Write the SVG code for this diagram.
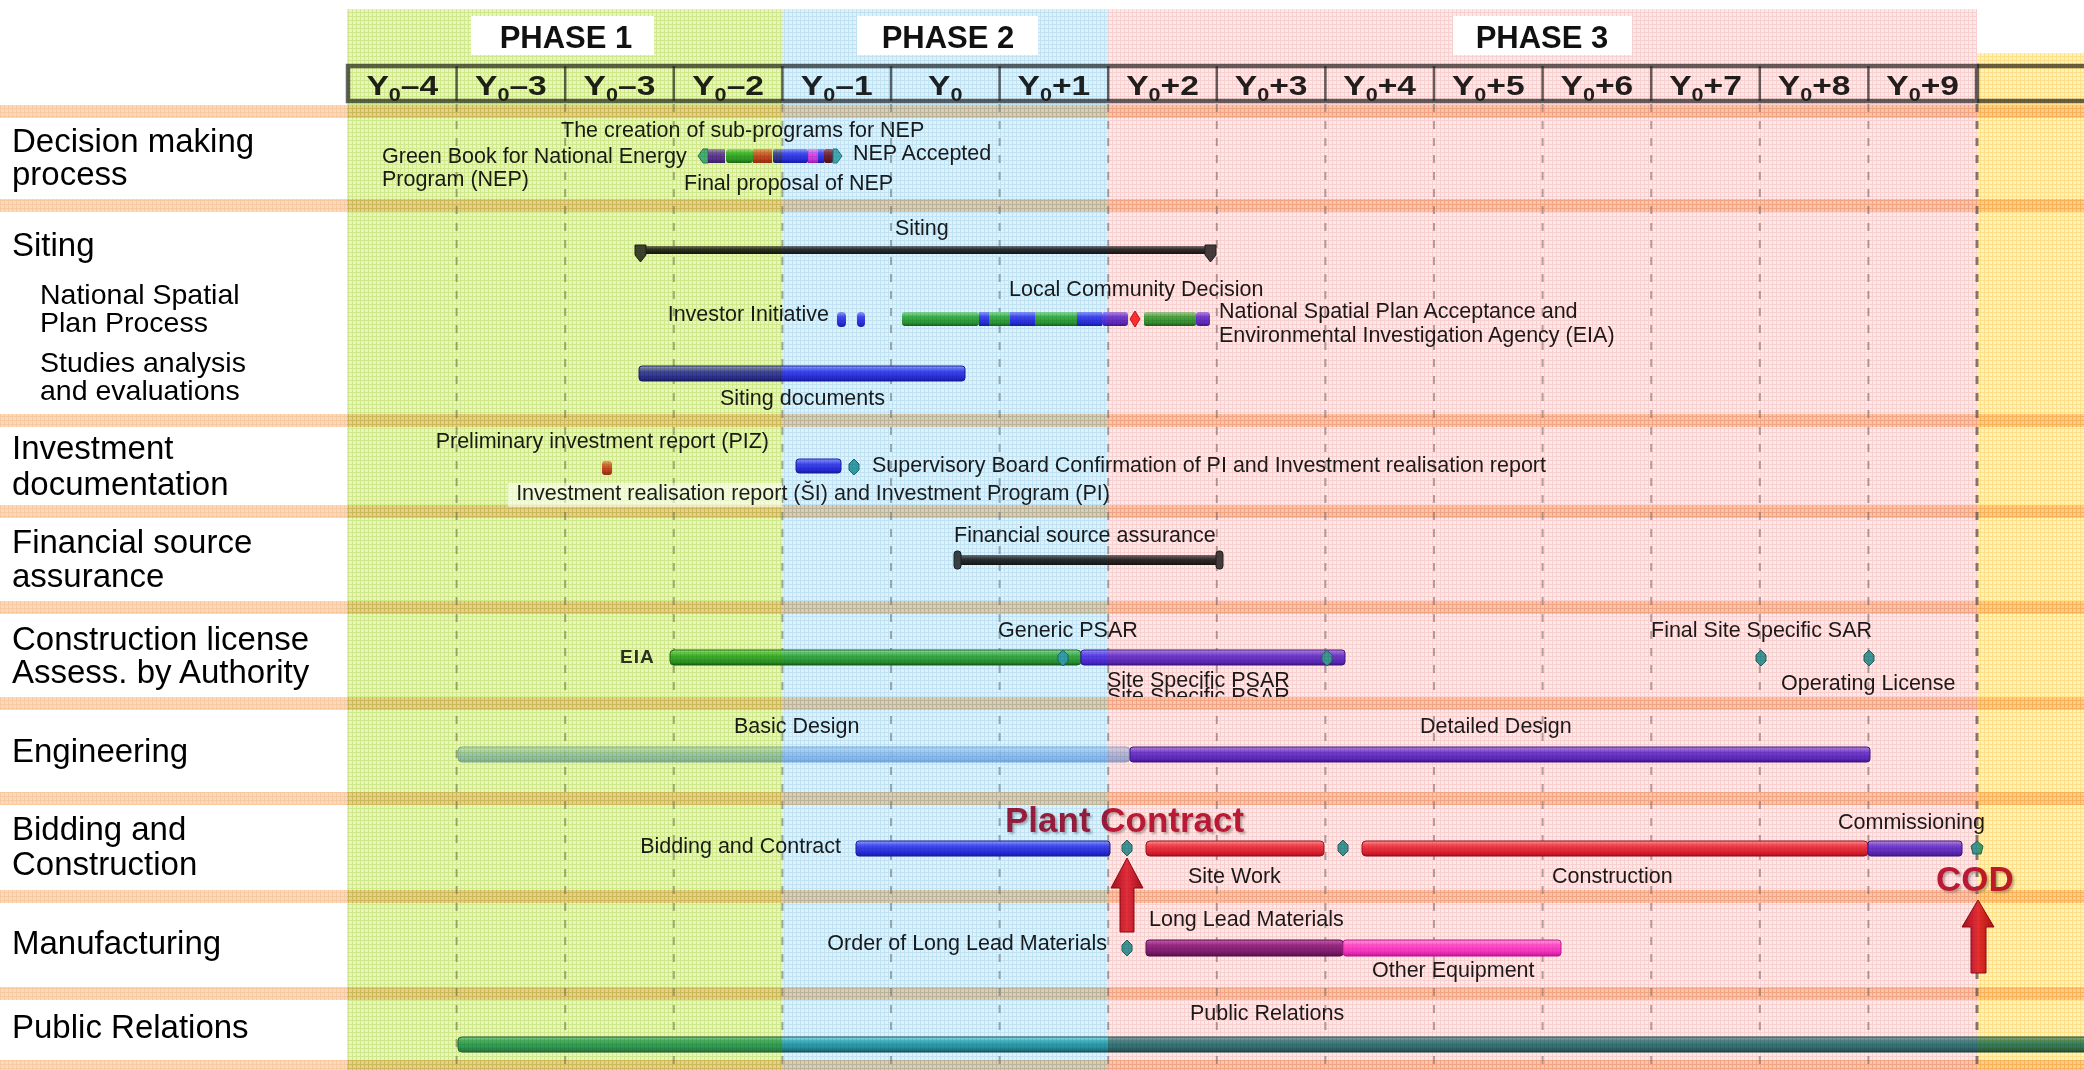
<svg xmlns="http://www.w3.org/2000/svg" width="2084" height="1070" viewBox="0 0 2084 1070">
<defs>
  <!-- fine grid textures for the phase tints -->
  <pattern id="pG" width="4" height="4" patternUnits="userSpaceOnUse"><rect width="4" height="4" fill="#e9f5bc"/><path d="M0 .5H4M.5 0V4" stroke="#d0e88c" stroke-width="1"/></pattern>
  <pattern id="pB" width="4" height="4" patternUnits="userSpaceOnUse"><rect width="4" height="4" fill="#def2fb"/><path d="M0 .5H4M.5 0V4" stroke="#c0e2f2" stroke-width="1"/></pattern>
  <pattern id="pP" width="4" height="4" patternUnits="userSpaceOnUse"><rect width="4" height="4" fill="#fee8e8"/><path d="M0 .5H4M.5 0V4" stroke="#f8d0d0" stroke-width="1"/></pattern>
  <pattern id="pY" width="4" height="4" patternUnits="userSpaceOnUse"><rect width="4" height="4" fill="#fff2bc"/><path d="M0 .5H4M.5 0V4" stroke="#ffe088" stroke-width="1"/></pattern>
  <pattern id="pBand" width="4" height="4" patternUnits="userSpaceOnUse"><rect width="4" height="4" fill="#fcd9bb"/><path d="M0 .5H4M.5 0V4" stroke="#f8caa2" stroke-width="1"/></pattern>

  <linearGradient id="gBlue" x1="0" y1="0" x2="0" y2="1"><stop offset="0" stop-color="#a4a4ff"/><stop offset=".35" stop-color="#4a4af2"/><stop offset=".8" stop-color="#2c2cd6"/><stop offset="1" stop-color="#1c1ca6"/></linearGradient>
  <linearGradient id="gGreen" x1="0" y1="0" x2="0" y2="1"><stop offset="0" stop-color="#a2e89e"/><stop offset=".35" stop-color="#48ba48"/><stop offset=".8" stop-color="#2f9a2f"/><stop offset="1" stop-color="#1e661e"/></linearGradient>
  <linearGradient id="gRed" x1="0" y1="0" x2="0" y2="1"><stop offset="0" stop-color="#ff9c9c"/><stop offset=".35" stop-color="#ee4252"/><stop offset=".8" stop-color="#d82232"/><stop offset="1" stop-color="#a01020"/></linearGradient>
  <linearGradient id="gOrange" x1="0" y1="0" x2="0" y2="1"><stop offset="0" stop-color="#ffa88a"/><stop offset=".4" stop-color="#e85a3a"/><stop offset="1" stop-color="#b02a18"/></linearGradient>
  <linearGradient id="gDRed" x1="0" y1="0" x2="0" y2="1"><stop offset="0" stop-color="#c06070"/><stop offset=".4" stop-color="#902838"/><stop offset="1" stop-color="#601020"/></linearGradient>
  <linearGradient id="gPurple" x1="0" y1="0" x2="0" y2="1"><stop offset="0" stop-color="#b496ff"/><stop offset=".35" stop-color="#7044ec"/><stop offset=".8" stop-color="#5a2ad2"/><stop offset="1" stop-color="#3e1aa0"/></linearGradient>
  <linearGradient id="gDark" x1="0" y1="0" x2="0" y2="1"><stop offset="0" stop-color="#7a7a7a"/><stop offset=".4" stop-color="#343434"/><stop offset="1" stop-color="#161616"/></linearGradient>
  <linearGradient id="gMag" x1="0" y1="0" x2="0" y2="1"><stop offset="0" stop-color="#ffa6f2"/><stop offset=".35" stop-color="#ff54e8"/><stop offset=".8" stop-color="#f032d8"/><stop offset="1" stop-color="#b01aa0"/></linearGradient>
  <linearGradient id="gDMag" x1="0" y1="0" x2="0" y2="1"><stop offset="0" stop-color="#c864c8"/><stop offset=".35" stop-color="#942c94"/><stop offset=".8" stop-color="#7a1e7a"/><stop offset="1" stop-color="#501050"/></linearGradient>
  <linearGradient id="gTeal" x1="0" y1="0" x2="0" y2="1"><stop offset="0" stop-color="#a0eaea"/><stop offset=".35" stop-color="#3cb2b6"/><stop offset=".8" stop-color="#2a8e96"/><stop offset="1" stop-color="#1a5a5a"/></linearGradient>
  <linearGradient id="gLBlue" x1="0" y1="0" x2="0" y2="1"><stop offset="0" stop-color="#d6eafc"/><stop offset=".4" stop-color="#a8caf2"/><stop offset="1" stop-color="#8ab2e6"/></linearGradient>
  <linearGradient id="gArrow" x1="0" y1="0" x2="1" y2="0"><stop offset="0" stop-color="#a8101e"/><stop offset=".5" stop-color="#e23444"/><stop offset="1" stop-color="#a8101e"/></linearGradient>

  <filter id="shadow" x="-5%" y="-20%" width="115%" height="150%"><feDropShadow dx="2" dy="2" stdDeviation="1" flood-color="#888" flood-opacity=".6"/></filter>
  <clipPath id="aboveBand"><rect x="1000" y="600" width="400" height="97"/></clipPath>

  <!-- milestone and summary-end shapes -->
  <path id="dia" d="M0,-8L5,-3L5,3L0,8L-5,3L-5,-3Z"/>
  <path id="sumEnd" d="M0,-1H11V9L5.5,16L0,9Z"/>
</defs>
<style>
  text{font-family:"Liberation Sans",Arial,sans-serif}
  .row{font-size:33px;fill:#000}
  .sub{font-size:28.5px}
  .lbl{font-size:21.5px;fill:#1c1c1c}
  .yr{font-size:28px;font-weight:bold;fill:#222}
  .ph{font-size:31px;font-weight:bold;fill:#111}
  .red{font-size:35px;font-weight:bold;fill:#bc1f3c}
  .band{fill:url(#pBand)}
  .grid{stroke:#808080;stroke-width:2;stroke-dasharray:8 9;opacity:.6}
  .ms{fill:#3aa6a6;stroke:#236e6e;stroke-width:1}
  .tint{mix-blend-mode:multiply}
  .arrow{fill:url(#gArrow);stroke:#8a0c18;stroke-width:1}
</style>

<rect width="2084" height="1070" fill="#fff"/>

<!-- row separator bands -->
<g id="bands">
  <rect class="band" x="0" y="105" width="2084" height="13"/>
  <rect class="band" x="0" y="199" width="2084" height="13"/>
  <rect class="band" x="0" y="414" width="2084" height="13"/>
  <rect class="band" x="0" y="505" width="2084" height="13"/>
  <rect class="band" x="0" y="601" width="2084" height="13"/>
  <rect class="band" x="0" y="792" width="2084" height="13"/>
  <rect class="band" x="0" y="890" width="2084" height="13"/>
  <rect class="band" x="0" y="987" width="2084" height="13"/>
  <rect class="band" x="0" y="1060" width="2084" height="13"/>
</g>

<!-- year grid -->
<g id="grid">
  <line class="grid" x1="456.6" y1="104" x2="456.6" y2="1070"/>
  <line class="grid" x1="565.2" y1="104" x2="565.2" y2="1070"/>
  <line class="grid" x1="673.8" y1="104" x2="673.8" y2="1070"/>
  <line class="grid" x1="782.4" y1="104" x2="782.4" y2="1070"/>
  <line class="grid" x1="891" y1="104" x2="891" y2="1070"/>
  <line class="grid" x1="999.6" y1="104" x2="999.6" y2="1070"/>
  <line class="grid" x1="1108.2" y1="104" x2="1108.2" y2="1070"/>
  <line class="grid" x1="1216.8" y1="104" x2="1216.8" y2="1070"/>
  <line class="grid" x1="1325.4" y1="104" x2="1325.4" y2="1070"/>
  <line class="grid" x1="1434" y1="104" x2="1434" y2="1070"/>
  <line class="grid" x1="1542.6" y1="104" x2="1542.6" y2="1070"/>
  <line class="grid" x1="1651.2" y1="104" x2="1651.2" y2="1070"/>
  <line class="grid" x1="1759.8" y1="104" x2="1759.8" y2="1070"/>
  <line class="grid" x1="1868.4" y1="104" x2="1868.4" y2="1070"/>
  <line class="grid" x1="1977" y1="104" x2="1977" y2="1070" style="stroke:#6a6a6a;stroke-width:3;opacity:.8"/>
</g>

<!-- year header -->
<g id="years">
  <g fill="none" stroke="#2a2a2a" stroke-opacity=".72">
    <rect x="348" y="66" width="1629" height="35" stroke-width="4.5"/>
    <path d="M1977 66H2084M1977 101H2084" stroke-width="4.5"/>
    <path d="M456.6 66V101M565.2 66V101M673.8 66V101M782.4 66V101M891 66V101M999.6 66V101M1108.2 66V101M1216.8 66V101M1325.4 66V101M1434 66V101M1542.6 66V101M1651.2 66V101M1759.8 66V101M1868.4 66V101" stroke-width="2.5"/>
  </g>
  <text class="yr" text-anchor="middle" transform="translate(402.3 95) scale(1.2 1)">Y<tspan font-size="18" dy="6">0</tspan><tspan dy="-6">–4</tspan></text>
  <text class="yr" text-anchor="middle" transform="translate(510.9 95) scale(1.2 1)">Y<tspan font-size="18" dy="6">0</tspan><tspan dy="-6">–3</tspan></text>
  <text class="yr" text-anchor="middle" transform="translate(619.5 95) scale(1.2 1)">Y<tspan font-size="18" dy="6">0</tspan><tspan dy="-6">–3</tspan></text>
  <text class="yr" text-anchor="middle" transform="translate(728.1 95) scale(1.2 1)">Y<tspan font-size="18" dy="6">0</tspan><tspan dy="-6">–2</tspan></text>
  <text class="yr" text-anchor="middle" transform="translate(836.7 95) scale(1.2 1)">Y<tspan font-size="18" dy="6">0</tspan><tspan dy="-6">–1</tspan></text>
  <text class="yr" text-anchor="middle" transform="translate(945.3 95) scale(1.2 1)">Y<tspan font-size="18" dy="6">0</tspan></text>
  <text class="yr" text-anchor="middle" transform="translate(1053.9 95) scale(1.2 1)">Y<tspan font-size="18" dy="6">0</tspan><tspan dy="-6">+1</tspan></text>
  <text class="yr" text-anchor="middle" transform="translate(1162.5 95) scale(1.2 1)">Y<tspan font-size="18" dy="6">0</tspan><tspan dy="-6">+2</tspan></text>
  <text class="yr" text-anchor="middle" transform="translate(1271.1 95) scale(1.2 1)">Y<tspan font-size="18" dy="6">0</tspan><tspan dy="-6">+3</tspan></text>
  <text class="yr" text-anchor="middle" transform="translate(1379.7 95) scale(1.2 1)">Y<tspan font-size="18" dy="6">0</tspan><tspan dy="-6">+4</tspan></text>
  <text class="yr" text-anchor="middle" transform="translate(1488.3 95) scale(1.2 1)">Y<tspan font-size="18" dy="6">0</tspan><tspan dy="-6">+5</tspan></text>
  <text class="yr" text-anchor="middle" transform="translate(1596.9 95) scale(1.2 1)">Y<tspan font-size="18" dy="6">0</tspan><tspan dy="-6">+6</tspan></text>
  <text class="yr" text-anchor="middle" transform="translate(1705.5 95) scale(1.2 1)">Y<tspan font-size="18" dy="6">0</tspan><tspan dy="-6">+7</tspan></text>
  <text class="yr" text-anchor="middle" transform="translate(1814.1 95) scale(1.2 1)">Y<tspan font-size="18" dy="6">0</tspan><tspan dy="-6">+8</tspan></text>
  <text class="yr" text-anchor="middle" transform="translate(1922.7 95) scale(1.2 1)">Y<tspan font-size="18" dy="6">0</tspan><tspan dy="-6">+9</tspan></text>
</g>

<!-- row headings -->
<g id="row-labels">
  <text class="row" x="12" y="152">Decision making</text>
  <text class="row" x="12" y="185">process</text>
  <text class="row" x="12" y="256">Siting</text>
  <text class="row sub" x="40" y="304">National Spatial</text>
  <text class="row sub" x="40" y="332">Plan Process</text>
  <text class="row sub" x="40" y="372">Studies analysis</text>
  <text class="row sub" x="40" y="400">and evaluations</text>
  <text class="row" x="12" y="459">Investment</text>
  <text class="row" x="12" y="495">documentation</text>
  <text class="row" x="12" y="553">Financial source</text>
  <text class="row" x="12" y="587">assurance</text>
  <text class="row" x="12" y="650">Construction license</text>
  <text class="row" x="12" y="683">Assess. by Authority</text>
  <text class="row" x="12" y="762">Engineering</text>
  <text class="row" x="12" y="840">Bidding and</text>
  <text class="row" x="12" y="875">Construction</text>
  <text class="row" x="12" y="954">Manufacturing</text>
  <text class="row" x="12" y="1038">Public Relations</text>
</g>

<!-- Decision making process -->
<g id="decision">
  <path d="M698,156L703,149H708V163H703Z" fill="#4ab4b4" stroke="#2a7a7a"/>
  <rect x="708" y="149" width="17" height="14" fill="url(#gPurple)"/>
  <rect x="726" y="149" width="27" height="14" rx="3" fill="url(#gGreen)"/>
  <rect x="753" y="149" width="19" height="14" fill="url(#gOrange)"/>
  <rect x="773" y="149" width="35" height="14" rx="2" fill="url(#gBlue)"/>
  <rect x="808" y="149" width="10" height="14" fill="url(#gMag)"/>
  <rect x="818" y="149" width="6" height="14" fill="url(#gBlue)"/>
  <rect x="824" y="149" width="9" height="14" rx="2" fill="url(#gDRed)"/>
  <path d="M842,156L837,149H833V163H837Z" fill="#4ab4b4" stroke="#2a7a7a"/>
  <text class="lbl" x="561" y="137">The creation of sub-programs for NEP</text>
  <text class="lbl" x="382" y="163">Green Book for National Energy</text>
  <text class="lbl" x="382" y="186">Program (NEP)</text>
  <text class="lbl" x="853" y="160">NEP Accepted</text>
  <text class="lbl" x="684" y="190">Final proposal of NEP</text>
</g>

<!-- Siting -->
<g id="siting">
  <rect x="636" y="246" width="579" height="8" fill="url(#gDark)"/>
  <use href="#sumEnd" x="635" y="246" fill="#444" stroke="#222"/>
  <use href="#sumEnd" x="1205" y="246" fill="#444" stroke="#222"/>
  <text class="lbl" x="895" y="235">Siting</text>
</g>

<g id="spatial-plan">
  <rect x="837" y="312" width="9" height="15" rx="4" fill="url(#gBlue)"/>
  <rect x="857" y="312" width="8" height="15" rx="4" fill="url(#gBlue)"/>
  <rect x="902" y="312" width="77" height="14" rx="3" fill="url(#gGreen)"/>
  <rect x="979" y="312" width="10" height="14" fill="url(#gBlue)"/>
  <rect x="989" y="312" width="21" height="14" fill="url(#gGreen)"/>
  <rect x="1010" y="312" width="25" height="14" fill="url(#gBlue)"/>
  <rect x="1035" y="312" width="42" height="14" fill="url(#gGreen)"/>
  <rect x="1077" y="312" width="25" height="14" fill="url(#gBlue)"/>
  <rect x="1102" y="312" width="26" height="14" rx="3" fill="url(#gPurple)"/>
  <path d="M1135,311L1140,319L1135,327L1130,319Z" fill="#ff3434" stroke="#c01818"/>
  <rect x="1144" y="312" width="52" height="14" rx="2" fill="url(#gGreen)"/>
  <rect x="1196" y="312" width="14" height="14" rx="3" fill="url(#gPurple)"/>
  <text class="lbl" x="1009" y="296">Local Community Decision</text>
  <text class="lbl" x="829" y="321" text-anchor="end">Investor Initiative</text>
  <text class="lbl" x="1219" y="318">National Spatial Plan Acceptance and</text>
  <text class="lbl" x="1219" y="342">Environmental Investigation Agency (EIA)</text>
</g>

<g id="siting-documents">
  <rect x="639" y="366" width="326" height="15" rx="3" fill="url(#gBlue)" stroke="#2020a0" stroke-width="1"/>
  <text class="lbl" x="720" y="405">Siting documents</text>
</g>

<!-- Investment documentation -->
<g id="investment">
  <rect x="602" y="461" width="10" height="14" rx="3" fill="url(#gOrange)"/>
  <rect x="796" y="459" width="45" height="14" rx="3" fill="url(#gBlue)" stroke="#2020a0"/>
  <use href="#dia" x="854" y="467" class="ms"/>
  <text class="lbl" x="769" y="448" text-anchor="end">Preliminary investment report (PIZ)</text>
  <text class="lbl" x="872" y="472">Supervisory Board Confirmation of PI and Investment realisation report</text>
</g>

<!-- Financial source assurance -->
<g id="financial">
  <rect x="957" y="555" width="263" height="10" fill="url(#gDark)"/>
  <rect x="954" y="551" width="7" height="18" rx="3" fill="#444" stroke="#222"/>
  <rect x="1216" y="551" width="7" height="18" rx="3" fill="#444" stroke="#222"/>
  <text class="lbl" x="954" y="542">Financial source assurance</text>
</g>

<!-- Construction license -->
<g id="license">
  <rect x="670" y="650" width="411" height="15" rx="4" fill="url(#gGreen)" stroke="#1e6a1e"/>
  <rect x="1081" y="650" width="264" height="15" rx="3" fill="url(#gPurple)" stroke="#3a1a9a"/>
  <use href="#dia" x="1063" y="658" class="ms"/>
  <use href="#dia" x="1327" y="658" class="ms"/>
  <use href="#dia" x="1761" y="658" class="ms"/>
  <use href="#dia" x="1869" y="658" class="ms"/>
  <text x="620" y="663" font-size="19" font-weight="bold" fill="#333" letter-spacing="1">EIA</text>
  <text class="lbl" x="998" y="637">Generic PSAR</text>
  <text class="lbl" x="1107" y="687">Site Specific PSAR</text>
  <text class="lbl" x="1107" y="703" clip-path="url(#aboveBand)">Site Specific PSAR</text>
  <text class="lbl" x="1651" y="637">Final Site Specific SAR</text>
  <text class="lbl" x="1781" y="690">Operating License</text>
</g>

<!-- band drawn over the partly hidden label -->
<rect class="band" x="0" y="697" width="2084" height="13"/>

<!-- Engineering -->
<g id="engineering">
  <rect x="458" y="747" width="672" height="15" rx="4" fill="url(#gLBlue)" stroke="#7ea8de" opacity=".9"/>
  <rect x="1130" y="747" width="740" height="15" rx="3" fill="url(#gPurple)" stroke="#3a1a9a"/>
  <text class="lbl" x="734" y="733">Basic Design</text>
  <text class="lbl" x="1420" y="733">Detailed Design</text>
</g>

<!-- Bidding and Construction -->
<g id="bidding">
  <rect x="856" y="841" width="254" height="15" rx="3" fill="url(#gBlue)" stroke="#2020a0"/>
  <use href="#dia" x="1127" y="848" class="ms"/>
  <rect x="1146" y="841" width="178" height="15" rx="4" fill="url(#gRed)" stroke="#a01020"/>
  <use href="#dia" x="1343" y="848" class="ms"/>
  <rect x="1362" y="841" width="506" height="15" rx="4" fill="url(#gRed)" stroke="#a01020"/>
  <rect x="1868" y="841" width="94" height="15" rx="3" fill="url(#gPurple)" stroke="#3a1a9a"/>
  <path d="M1977,841L1983,846L1981,854H1973L1971,846Z" class="ms"/>
  <text class="lbl" x="841" y="853" text-anchor="end">Bidding and Contract</text>
  <text class="lbl" x="1188" y="883">Site Work</text>
  <text class="lbl" x="1552" y="883">Construction</text>
  <text class="lbl" x="1838" y="829">Commissioning</text>
  <text class="red" x="1005" y="832" filter="url(#shadow)">Plant Contract</text>
</g>

<!-- Manufacturing -->
<g id="manufacturing">
  <use href="#dia" x="1127" y="948" class="ms"/>
  <rect x="1146" y="940" width="197" height="16" rx="3" fill="url(#gDMag)" stroke="#5a105a"/>
  <rect x="1343" y="940" width="218" height="16" rx="3" fill="url(#gMag)" stroke="#c020b0"/>
  <text class="lbl" x="1149" y="926">Long Lead Materials</text>
  <text class="lbl" x="1107" y="950" text-anchor="end">Order of Long Lead Materials</text>
  <text class="lbl" x="1372" y="977">Other Equipment</text>
</g>

<!-- Public Relations -->
<g id="public-relations">
  <rect x="458" y="1037" width="1640" height="15" rx="4" fill="url(#gTeal)" stroke="#1e5a5a"/>
  <rect x="458" y="1037" width="324" height="15" fill="#4a9a30" opacity=".3"/>
  <rect x="1108" y="1037" width="990" height="15" fill="#3a2a2a" opacity=".28"/>
  <text class="lbl" x="1190" y="1020">Public Relations</text>
</g>

<!-- milestone arrows -->
<g id="arrows">
  <polygon class="arrow" points="1127,858 1143,888 1134,888 1134,932 1120,932 1120,888 1111,888"/>
  <polygon class="arrow" points="1978,900 1994,927 1986,927 1986,973 1971,973 1971,927 1962,927"/>
  <text class="red" x="1936" y="891" filter="url(#shadow)">COD</text>
</g>

<!-- phase tints -->
<g id="phase-tints">
  <rect class="tint" x="347" y="9" width="435.4" height="1061" fill="url(#pG)"/>
  <rect class="tint" x="782.4" y="9" width="325.8" height="1061" fill="url(#pB)"/>
  <rect class="tint" x="1108.2" y="9" width="868.8" height="1061" fill="url(#pP)"/>
  <rect class="tint" x="1977" y="53" width="107" height="1017" fill="url(#pY)"/>
</g>

<!-- light backdrop behind the realisation report label -->
<g id="realisation-label">
  <rect x="508" y="483" width="274" height="24" fill="#fff" opacity=".55"/>
  <text class="lbl" x="1110" y="500" text-anchor="end">Investment realisation report (ŠI) and Investment Program (PI)</text>
</g>

<!-- phase titles -->
<g id="phases">
  <rect x="471" y="16" width="183" height="39" fill="#fff"/>
  <rect x="857" y="16" width="181" height="39" fill="#fff"/>
  <rect x="1453" y="16" width="179" height="39" fill="#fff"/>
  <text class="ph" x="566" y="48" text-anchor="middle">PHASE 1</text>
  <text class="ph" x="948" y="48" text-anchor="middle">PHASE 2</text>
  <text class="ph" x="1542" y="48" text-anchor="middle">PHASE 3</text>
</g>
</svg>
